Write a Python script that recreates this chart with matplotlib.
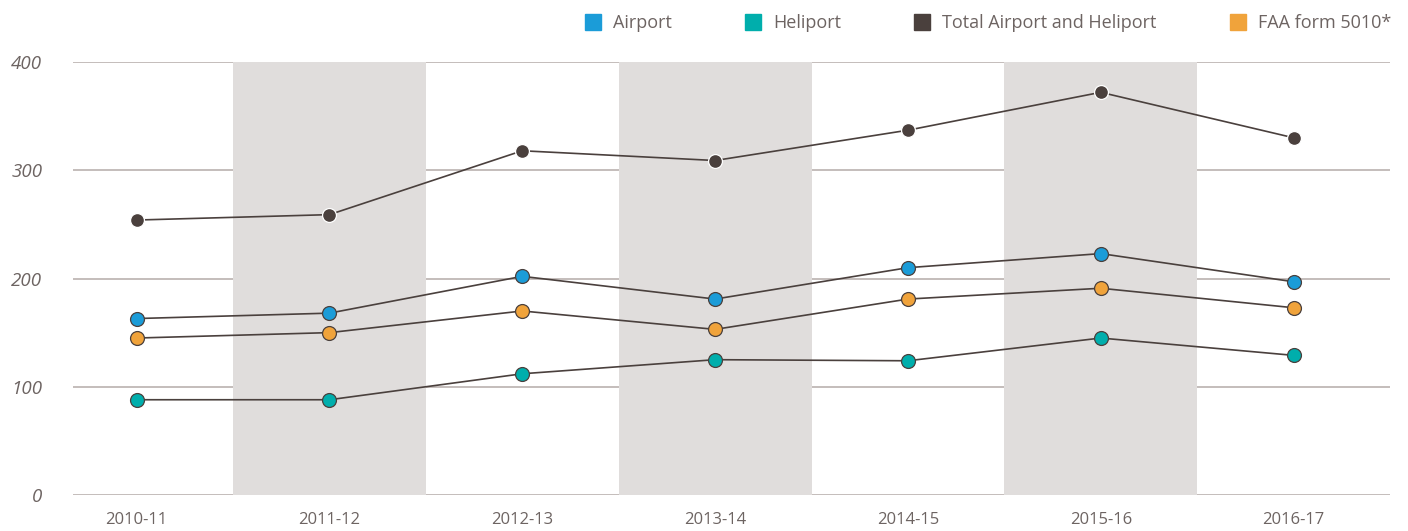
import matplotlib
matplotlib.use("Agg")
import matplotlib.pyplot as plt
from matplotlib.lines import Line2D

years = ["2010-11", "2011-12", "2012-13", "2013-14", "2014-15", "2015-16", "2016-17"]
airport = [163, 168, 202, 181, 210, 223, 197]
heliport = [88, 88, 112, 125, 124, 145, 129]
total = [254, 259, 318, 309, 337, 372, 330]
faa_5010 = [145, 150, 170, 153, 181, 191, 173]
y_ticks = [0, 100, 200, 300, 400]

C_AIR = "#1b9cd8"
C_HELI = "#00aeac"
C_TOT = "#4a403d"
C_FAA = "#f0a33b"
C_LINE = "#4a403d"
C_GRID = "#bfb7b5"
C_BAND = "#e0dddc"
C_TXT = "#6d6462"

plt.rcParams["font.family"] = ["Open Sans", "DejaVu Sans"]

fig = plt.figure(figsize=(14.08, 5.31), dpi=100)
ax = fig.add_axes([73 / 1408, 36 / 531, (1390 - 73) / 1408, (495 - 62) / 531])

x = list(range(len(years)))

# alternating shaded columns
for i in x:
    if i % 2 == 1:
        ax.axvspan(i - 0.5, i + 0.5, color=C_BAND, lw=0, zorder=1)

for t in y_ticks:
    ax.axhline(t, color=C_GRID, lw=1.3, zorder=0)

series = [
    (airport, C_AIR, C_LINE),
    (heliport, C_HELI, C_LINE),
    (faa_5010, C_FAA, C_LINE),
    (total, C_TOT, "white"),
]
for vals, col, edge in series:
    ax.plot(x, vals, color=C_LINE, lw=1.2, zorder=3)
    ax.plot(x, vals, ls="none", marker="o", markersize=10, markerfacecolor=col,
            markeredgecolor=edge, markeredgewidth=0.9, zorder=4)

ax.set_xlim(-0.33, 6.5)
ax.set_ylim(0, 400)
ax.set_xticks(x)
ax.set_xticklabels(years)
ax.set_yticks(y_ticks)
ax.set_yticklabels([str(t) for t in y_ticks], fontstyle="italic")
ax.tick_params(axis="both", length=0, labelcolor=C_TXT)
ax.tick_params(axis="x", pad=12, labelsize=12)
ax.tick_params(axis="y", pad=22, labelsize=13.5)
for s in ax.spines.values():
    s.set_visible(False)

handles = [
    Line2D([], [], ls="none", marker="s", markersize=12, color=C_AIR, label="Airport"),
    Line2D([], [], ls="none", marker="s", markersize=12, color=C_HELI, label="Heliport"),
    Line2D([], [], ls="none", marker="s", markersize=12, color=C_TOT, label="Total Airport and Heliport"),
    Line2D([], [], ls="none", marker="s", markersize=12, color=C_FAA, label="FAA form 5010*"),
]
leg = fig.legend(handles=handles, loc="center right", bbox_to_anchor=(1391 / 1408, 1 - 23 / 531),
                 ncol=4, frameon=False, fontsize=13, handlelength=1.0, handletextpad=0.6,
                 columnspacing=4.0, borderaxespad=0, borderpad=0)
for t in leg.get_texts():
    t.set_color(C_TXT)

fig.savefig("out.png", dpi=100)
